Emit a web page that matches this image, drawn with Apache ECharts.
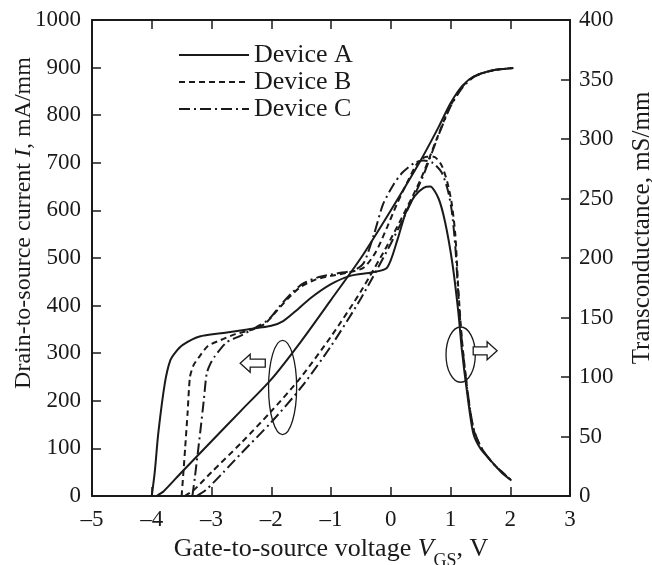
<!DOCTYPE html>
<html>
<head>
<meta charset="utf-8">
<script src="https://cdn.jsdelivr.net/npm/echarts@6/dist/echarts.min.js"></script>
<style>
  html, body { margin: 0; padding: 0; background: #fff; }
  #chart { width: 652px; height: 565px; }
</style>
</head>
<body>
<div id="chart"></div>
<script>
// drain current, mA/mm (left axis)
const currentA = [[-3.92, 0], [-3.8, 10], [-3.5, 50], [-3.0, 115], [-2.5, 180], [-2.0, 245], [-1.5, 325], [-1.0, 412], [-0.5, 500], [0, 600], [0.5, 705], [0.8, 775], [1.0, 825], [1.2, 862], [1.4, 882], [1.7, 894], [2.05, 899]]
const currentB = [[-3.45, 0], [-3.3, 12], [-3.0, 50], [-2.5, 112], [-2.0, 178], [-1.5, 250], [-1.0, 335], [-0.5, 430], [0, 540], [0.5, 665], [0.8, 760], [1.0, 820], [1.2, 860], [1.4, 882], [1.7, 894], [2.05, 899]]
const currentC = [[-3.25, 0], [-3.1, 12], [-2.8, 50], [-2.5, 90], [-2.0, 155], [-1.5, 228], [-1.0, 315], [-0.5, 415], [0, 530], [0.5, 660], [0.8, 758], [1.0, 818], [1.2, 858], [1.4, 881], [1.7, 894], [2.05, 899]]

// transconductance, mS/mm (right axis)
const gmA = [[-4.0, 0], [-3.95, 20], [-3.89, 53], [-3.78, 95], [-3.69, 114], [-3.6, 121], [-3.48, 127], [-3.2, 134], [-2.8, 137], [-2.4, 140], [-2.0, 143], [-1.8, 147], [-1.6, 155], [-1.35, 166], [-1.0, 178], [-0.68, 185], [-0.3, 188], [-0.06, 192], [0.11, 215], [0.25, 238], [0.4, 252], [0.55, 259], [0.66, 260], [0.8, 250], [0.91, 230], [1.03, 196], [1.13, 155], [1.19, 123], [1.28, 86], [1.38, 53], [1.5, 40], [1.67, 30], [1.85, 20], [2.02, 13]]
const gmB = [[-3.5, 0], [-3.47, 20], [-3.44, 41], [-3.4, 70], [-3.36, 100], [-3.3, 110], [-3.22, 116], [-3.06, 126], [-2.85, 131], [-2.6, 136], [-2.3, 140], [-2.1, 145], [-1.9, 156], [-1.7, 167], [-1.5, 176], [-1.25, 182], [-1.0, 185], [-0.7, 188], [-0.45, 192], [-0.25, 205], [-0.06, 226], [0.1, 245], [0.3, 266], [0.45, 280], [0.6, 285], [0.72, 285], [0.85, 278], [0.95, 263], [1.02, 246], [1.08, 220], [1.13, 175], [1.19, 132], [1.28, 90], [1.38, 57], [1.5, 42], [1.7, 28], [2.0, 14]]
const gmC = [[-3.32, 0], [-3.28, 15], [-3.19, 53], [-3.13, 80], [-3.08, 103], [-3.02, 111], [-2.95, 117], [-2.75, 129], [-2.5, 135], [-2.25, 142], [-2.05, 148], [-1.85, 160], [-1.65, 171], [-1.45, 179], [-1.2, 184], [-0.9, 187], [-0.6, 190], [-0.45, 196], [-0.28, 220], [-0.13, 245], [0.05, 262], [0.2, 272], [0.4, 280], [0.55, 282], [0.7, 280], [0.85, 272], [0.95, 258], [1.02, 240], [1.08, 210], [1.13, 170], [1.19, 130], [1.28, 90], [1.38, 58], [1.5, 42], [1.7, 28], [2.0, 14]]

const devices = ['Device A', 'Device B', 'Device C']
const dashes = ['solid', [6, 4], [11, 4, 2, 4]]

// annotation ellipses / arrows in data units (left axis)
const leftEllipse = {x: -1.81, y: 228, rx: 0.235, ry: 99}
const rightEllipse = {x: 1.17, y: 297, rx: 0.245, ry: 58}
const leftArrow = {from: [-2.1, 279], to: [-2.52, 279]}
const rightArrow = {from: [1.38, 305], to: [1.78, 305]}

const font = 'Liberation Serif'
const ink = '#1a1a1a'

const chart = echarts.init(document.getElementById('chart'))

const axisCommon = {
  axisLine: {onZero: false, lineStyle: {color: ink, width: 2}},
  axisTick: {inside: true, length: 9, lineStyle: {color: ink, width: 1.5}},
  splitLine: {show: false},
  axisLabel: {color: ink, fontFamily: font, fontSize: 23, formatter: v => String(v)},
}

function line(name, data, i, yAxisIndex) {
  return {
    name: name,
    type: 'line',
    data: data,
    yAxisIndex: yAxisIndex,
    showSymbol: false,
    symbol: 'none',
    smooth: 0.25,
    lineStyle: {color: ink, width: 2, type: dashes[i]},
    itemStyle: {color: ink},
    z: 3 - i,
  }
}

const series = []
const currents = [currentA, currentB, currentC]
const gms = [gmA, gmB, gmC]
devices.forEach((d, i) => {
  series.push(line(d, currents[i], i, 0))
  series.push(line(d, gms[i], i, 1))
})

chart.setOption({
  animation: false,
  grid: {left: 92, right: 82, top: 20, bottom: 69, outerBoundsMode: 'none'},
  legend: {
    data: devices,
    orient: 'vertical',
    left: 173,
    top: 37,
    itemWidth: 70,
    itemHeight: 14,
    itemGap: 1,
    itemStyle: {opacity: 0},
    textStyle: {color: ink, fontFamily: font, fontSize: 26},
    selectedMode: false,
  },
  xAxis: [
    Object.assign({}, axisCommon, {
      type: 'value', min: -5, max: 3, interval: 1,
      axisLabel: Object.assign({}, axisCommon.axisLabel, {
        margin: 12,
        formatter: v => (v < 0 ? '\u2013' + Math.abs(v) : String(v))
      }),
      name: '{n|Gate-to-source voltage }{i|V}{s|GS}{n|, V}',
      nameLocation: 'middle',
      nameGap: 40,
      nameTextStyle: {
        rich: {
          n: {fontFamily: font, fontSize: 26, color: ink},
          i: {fontFamily: font, fontSize: 26, fontStyle: 'italic', color: ink},
          s: {fontFamily: font, fontSize: 18, color: ink, verticalAlign: 'bottom', padding: [0, 0, -8, 0]},
        }
      },
    }),
    Object.assign({}, axisCommon, {
      type: 'value', min: -5, max: 3, interval: 1, position: 'top',
      axisLabel: {show: false},
    }),
  ],
  yAxis: [
    Object.assign({}, axisCommon, {
      type: 'value', min: 0, max: 1000, interval: 100, position: 'left',
      axisLabel: Object.assign({}, axisCommon.axisLabel, {margin: 11}),
      name: '{n|Drain-to-source current }{i|I}{n|, mA/mm}',
      nameLocation: 'middle',
      nameGap: 56,
      nameMoveOverlap: false,
      nameTextStyle: {
        padding: [0, 0, 0, 70],
        rich: {
          n: {fontFamily: font, fontSize: 24, color: ink},
          i: {fontFamily: font, fontSize: 24, fontStyle: 'italic', color: ink},
        }
      },
    }),
    Object.assign({}, axisCommon, {
      type: 'value', min: 0, max: 400, interval: 50, position: 'right',
      axisLabel: Object.assign({}, axisCommon.axisLabel, {margin: 9}),
      name: 'Transconductance, mS/mm',
      nameLocation: 'middle',
      nameGap: 60,
      nameTextStyle: {fontFamily: font, fontSize: 25, color: ink, padding: [0, 0, 0, 60]},
    }),
  ],
  series: series,
})

// annotations placed from data coordinates
function px(p) {
  return chart.convertToPixel({xAxisIndex: 0, yAxisIndex: 0}, p)
}

function ellipse(e) {
  const c = px([e.x, e.y])
  const r = px([e.x + e.rx, e.y + e.ry])
  return {
    type: 'ellipse',
    shape: {cx: c[0], cy: c[1], rx: Math.abs(r[0] - c[0]), ry: Math.abs(c[1] - r[1])},
    style: {fill: 'none', stroke: ink, lineWidth: 1.3},
    z: 10,
  }
}

function arrow(a) {
  const p0 = px(a.from)
  const p1 = px(a.to)
  const dir = p1[0] > p0[0] ? 1 : -1
  const y = p0[1]
  const h = 4, H = 9, L = 10
  const xb = p1[0] - dir * L
  return {
    type: 'polygon',
    shape: {points: [[p0[0], y - h], [xb, y - h], [xb, y - H], [p1[0], y], [xb, y + H], [xb, y + h], [p0[0], y + h]]},
    style: {fill: '#fff', stroke: ink, lineWidth: 1.3},
    z: 10,
  }
}

chart.setOption({
  graphic: [ellipse(leftEllipse), ellipse(rightEllipse), arrow(leftArrow), arrow(rightArrow)]
})
</script>
</body>
</html>
